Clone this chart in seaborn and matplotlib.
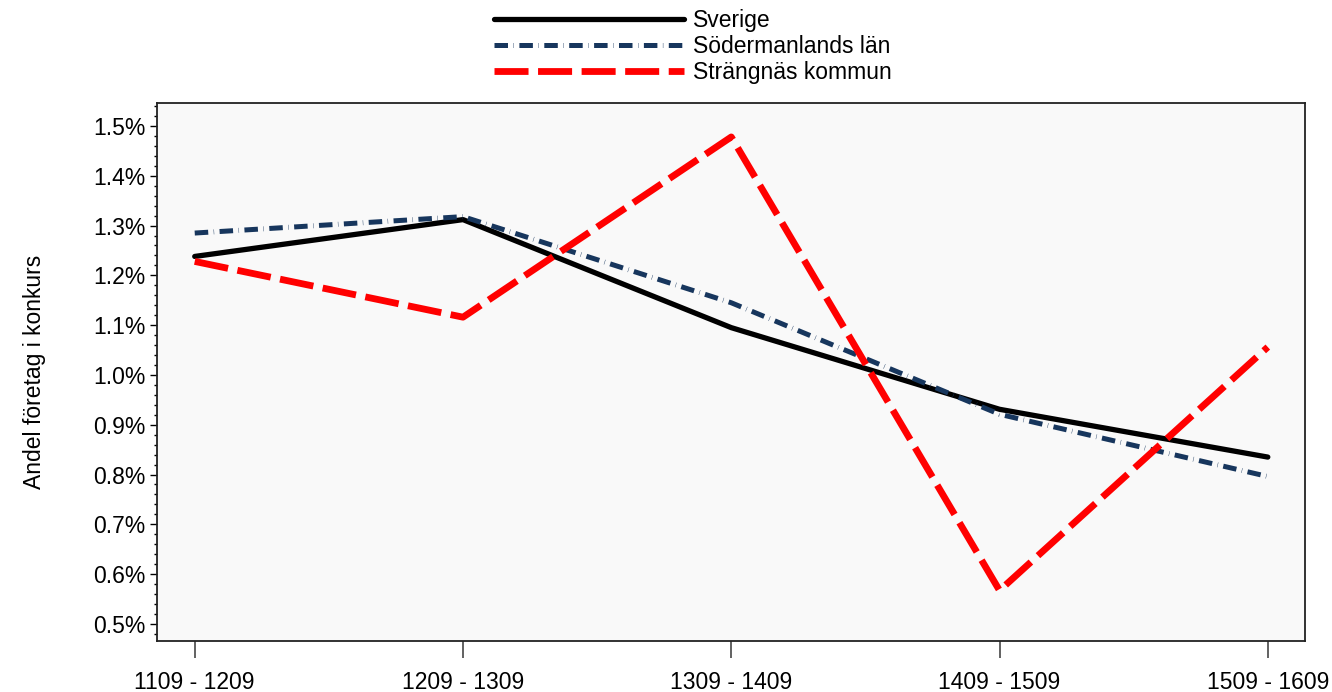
import pandas as pd
import matplotlib
matplotlib.use("Agg")
import matplotlib.pyplot as plt
import seaborn as sns
from matplotlib.ticker import PercentFormatter, MultipleLocator

perioder = ["1109 - 1209", "1209 - 1309", "1309 - 1409", "1409 - 1509", "1509 - 1609"]
sverige = [1.238, 1.312, 1.095, 0.931, 0.835]
sodermanland = [1.285, 1.318, 1.145, 0.921, 0.796]
strangnas = [1.228, 1.116, 1.478, 0.567, 1.056]
serier = ["Sverige", "Södermanlands län", "Strängnäs kommun"]

df = pd.DataFrame({
    "Period": perioder * 3,
    "Andel": sverige + sodermanland + strangnas,
    "Område": [s for s in serier for _ in perioder],
})
df["x"] = df["Period"].map({p: i for i, p in enumerate(perioder)})

sns.set_style("ticks")
plt.rcParams["font.family"] = ["Liberation Sans", "DejaVu Sans"]
plt.rcParams["text.color"] = "black"
plt.rcParams["axes.labelcolor"] = "black"
plt.rcParams["xtick.labelcolor"] = "black"
plt.rcParams["ytick.labelcolor"] = "black"

fig, ax = plt.subplots(figsize=(13.32, 6.92), dpi=100)
fig.subplots_adjust(left=0.118, right=0.98, top=0.851, bottom=0.074)

farger = {"Sverige": "black", "Södermanlands län": "#17365d", "Strängnäs kommun": "#ff0000"}
streck = {"Sverige": "", "Södermanlands län": (2.7, 1.1, 0.08, 1.1), "Strängnäs kommun": (5.0, 1.4)}
sns.lineplot(data=df, x="x", y="Andel", hue="Område", style="Område", palette=farger,
             dashes=streck, ax=ax, legend=False)
bredd = {"Sverige": 3.8, "Södermanlands län": 3.6, "Strängnäs kommun": 4.9}
for line, s in zip(ax.get_lines(), serier):
    line.set_linewidth(bredd[s])
    line.set_dash_capstyle("butt")
    line.set_solid_capstyle("round")

ax.set_facecolor("#f9f9f9")
ax.set_xlim(-0.14, 4.14)
ax.set_ylim(0.466, 1.546)
ax.set_xticks(range(len(perioder)))
ax.set_xticklabels(perioder)
ax.yaxis.set_major_locator(MultipleLocator(0.1))
ax.yaxis.set_minor_locator(MultipleLocator(0.02))
ax.yaxis.set_major_formatter(PercentFormatter(decimals=1))
ax.tick_params(axis="x", length=12, width=1.3, color="#555555", labelsize=16.5, pad=10)
ax.tick_params(axis="y", which="major", length=5, width=1, color="black", labelsize=16.5)
ax.tick_params(axis="y", which="minor", length=2.5, width=1, color="black")
for sp in ax.spines.values():
    sp.set_color("#222222")
    sp.set_linewidth(1.3)
ax.set_xlabel("")
ax.set_ylabel("Andel företag i konkurs", fontsize=16.5, labelpad=34)

handles = [plt.Line2D([], [], color=farger[s], lw=bredd[s],
                      dashes=streck[s] if streck[s] else (None, None),
                      dash_capstyle="butt") for s in serier]
fig.legend(handles, serier, loc="upper center", bbox_to_anchor=(0.52, 1.017), frameon=False,
           fontsize=16.5, handlelength=8.3, handletextpad=0.4, labelspacing=0.13)

fig.savefig("out.png", dpi=100)
